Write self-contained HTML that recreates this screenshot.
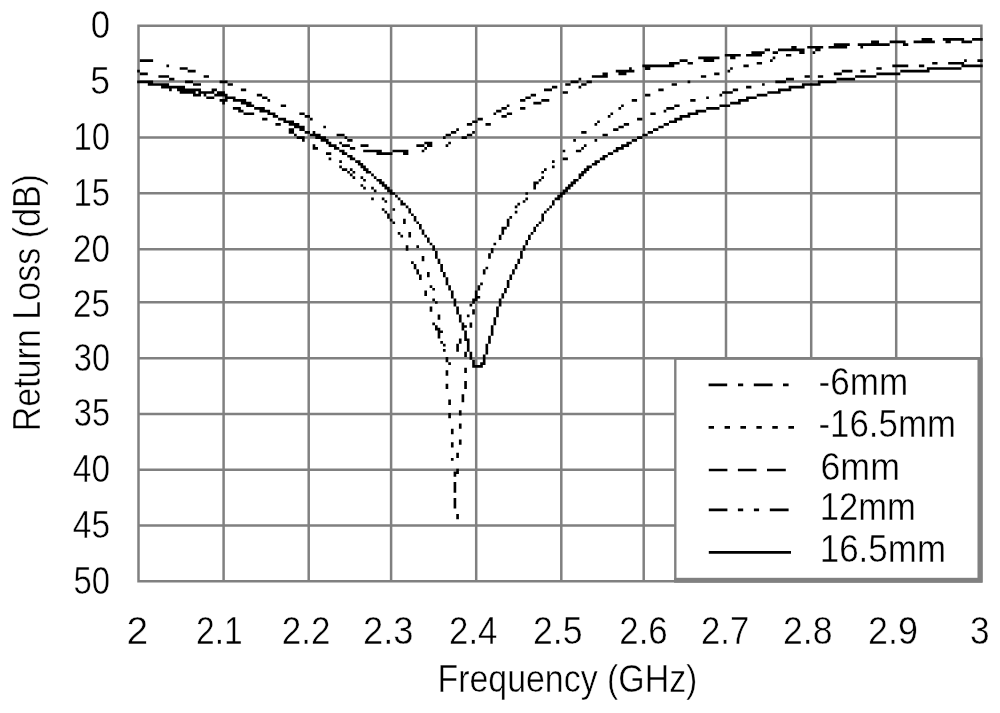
<!DOCTYPE html>
<html><head><meta charset="utf-8"><title>Return Loss</title>
<style>html,body{margin:0;padding:0;background:#fff}svg{display:block}</style></head>
<body>
<svg width="1000" height="713" viewBox="0 0 1000 713">
<rect width="1000" height="713" fill="#fff"/>
<path d="M138.5 24.55V582.55M223.6 24.55V582.55M308.7 24.55V582.55M391.1 24.55V582.55M476.2 24.55V582.55M561.3 24.55V582.55M643.7 24.55V582.55M726.0 24.55V582.55M811.2 24.55V582.55M896.2 24.55V582.55M981.4 24.55V582.55M137.25 25.8H982.65M137.25 81.5H982.65M137.25 137.4H982.65M137.25 193.2H982.65M137.25 249.2H982.65M137.25 302.3H982.65M137.25 358.2H982.65M137.25 413.9H982.65M137.25 469.8H982.65M137.25 525.6H982.65M137.25 581.3H982.65" stroke="#808080" stroke-width="2.5" fill="none"/>
<path d="M387.12 216.12h2.66v2.659h-2.66zM413.71 216.12h2.66v2.659h-2.66zM509.43 216.12h2.66v2.659h-2.66zM541.34 216.12h2.66v2.659h-2.66zM262.14 117.74h5.32v2.659h-5.32zM278.10 117.74h7.98v2.659h-7.98zM310.01 117.74h2.66v2.659h-2.66zM477.52 117.74h5.32v2.659h-5.32zM637.06 117.74h5.32v2.659h-5.32zM674.29 117.74h7.98v2.659h-7.98zM424.34 293.23h2.66v2.659h-2.66zM450.93 293.23h2.66v2.659h-2.66zM474.86 293.23h2.66v2.659h-2.66zM501.45 293.23h2.66v2.659h-2.66zM328.62 157.62h2.66v2.659h-2.66zM349.89 157.62h5.32v2.659h-5.32zM562.61 157.62h5.32v2.659h-5.32zM599.84 157.62h5.32v2.659h-5.32zM243.53 112.42h10.64v2.659h-10.64zM267.46 112.42h7.98v2.659h-7.98zM299.37 112.42h5.32v2.659h-5.32zM493.48 112.42h2.66v2.659h-2.66zM506.77 112.42h5.32v2.659h-5.32zM610.47 112.42h2.66v2.659h-2.66zM650.36 112.42h5.32v2.659h-5.32zM687.58 112.42h10.64v2.659h-10.64zM347.23 170.92h2.66v2.659h-2.66zM352.55 170.92h2.66v2.659h-2.66zM365.84 170.92h5.32v2.659h-5.32zM541.34 170.92h2.66v2.659h-2.66zM581.22 170.92h5.32v2.659h-5.32zM302.03 139.01h2.66v2.659h-2.66zM320.64 139.01h7.98v2.659h-7.98zM347.23 139.01h5.32v2.659h-5.32zM573.25 139.01h2.66v2.659h-2.66zM594.52 139.01h2.66v2.659h-2.66zM631.74 139.01h5.32v2.659h-5.32zM179.71 67.21h7.98v2.659h-7.98zM629.09 67.21h2.66v2.659h-2.66zM645.04 67.21h5.32v2.659h-5.32zM730.13 67.21h2.66v2.659h-2.66zM876.37 67.21h5.32v2.659h-5.32zM926.89 67.21h34.57v2.659h-34.57zM432.32 322.48h2.66v2.659h-2.66zM461.57 322.48h2.66v2.659h-2.66zM469.55 322.48h2.66v2.659h-2.66zM493.48 322.48h2.66v2.659h-2.66zM416.37 271.96h2.66v2.659h-2.66zM427.00 271.96h2.66v2.659h-2.66zM442.96 271.96h2.66v2.659h-2.66zM482.84 271.96h2.66v2.659h-2.66zM512.09 271.96h2.66v2.659h-2.66zM445.61 357.05h2.66v2.659h-2.66zM469.55 357.05h2.66v2.659h-2.66zM482.84 357.05h2.66v2.659h-2.66zM413.71 263.98h2.66v2.659h-2.66zM440.30 263.98h2.66v2.659h-2.66zM514.75 263.98h2.66v2.659h-2.66zM325.96 152.30h5.32v2.659h-5.32zM341.91 152.30h5.32v2.659h-5.32zM376.48 152.30h15.95v2.659h-15.95zM403.07 152.30h5.32v2.659h-5.32zM607.81 152.30h5.32v2.659h-5.32zM137.17 80.51h15.95v2.659h-15.95zM185.03 80.51h7.98v2.659h-7.98zM219.60 80.51h7.98v2.659h-7.98zM570.59 80.51h7.98v2.659h-7.98zM586.54 80.51h5.32v2.659h-5.32zM687.58 80.51h2.66v2.659h-2.66zM775.33 80.51h10.64v2.659h-10.64zM817.87 80.51h18.61v2.659h-18.61zM158.44 75.19h10.64v2.659h-10.64zM203.65 75.19h5.32v2.659h-5.32zM591.86 75.19h15.95v2.659h-15.95zM700.88 75.19h5.32v2.659h-5.32zM804.58 75.19h5.32v2.659h-5.32zM817.87 75.19h5.32v2.659h-5.32zM855.10 75.19h21.27v2.659h-21.27zM724.81 53.92h15.95v2.659h-15.95zM746.08 53.92h15.95v2.659h-15.95zM785.97 53.92h5.32v2.659h-5.32zM275.44 123.05h5.32v2.659h-5.32zM288.73 123.05h10.64v2.659h-10.64zM466.89 123.05h5.32v2.659h-5.32zM485.50 123.05h5.32v2.659h-5.32zM594.52 123.05h2.66v2.659h-2.66zM623.77 123.05h5.32v2.659h-5.32zM663.65 123.05h5.32v2.659h-5.32zM246.19 104.44h7.98v2.659h-7.98zM280.76 104.44h5.32v2.659h-5.32zM506.77 104.44h2.66v2.659h-2.66zM621.11 104.44h2.66v2.659h-2.66zM674.29 104.44h5.32v2.659h-5.32zM719.49 104.44h10.64v2.659h-10.64zM193.01 93.80h7.98v2.659h-7.98zM203.65 93.80h2.66v2.659h-2.66zM214.28 93.80h13.29v2.659h-13.29zM256.83 93.80h5.32v2.659h-5.32zM530.70 93.80h5.32v2.659h-5.32zM645.04 93.80h5.32v2.659h-5.32zM719.49 93.80h2.66v2.659h-2.66zM756.72 93.80h10.64v2.659h-10.64zM339.25 149.64h5.32v2.659h-5.32zM363.19 149.64h18.61v2.659h-18.61zM392.43 149.64h15.95v2.659h-15.95zM421.68 149.64h2.66v2.659h-2.66zM562.61 149.64h2.66v2.659h-2.66zM575.91 149.64h5.32v2.659h-5.32zM613.13 149.64h5.32v2.659h-5.32zM668.97 61.90h10.64v2.659h-10.64zM687.58 61.90h5.32v2.659h-5.32zM756.72 61.90h5.32v2.659h-5.32zM932.21 61.90h5.32v2.659h-5.32zM948.17 61.90h15.95v2.659h-15.95zM434.98 325.14h2.66v2.659h-2.66zM461.57 325.14h5.32v2.659h-5.32zM469.55 325.14h2.66v2.659h-2.66zM490.82 325.14h2.66v2.659h-2.66zM349.89 173.57h2.66v2.659h-2.66zM371.16 173.57h2.66v2.659h-2.66zM578.56 173.57h5.32v2.659h-5.32zM833.83 43.28h15.95v2.659h-15.95zM857.76 43.28h31.91v2.659h-31.91zM902.96 43.28h5.32v2.659h-5.32zM434.98 250.69h2.66v2.659h-2.66zM490.82 250.69h2.66v2.659h-2.66zM520.07 250.69h2.66v2.659h-2.66zM294.05 133.69h2.66v2.659h-2.66zM310.01 133.69h10.64v2.659h-10.64zM336.60 133.69h7.98v2.659h-7.98zM445.61 133.69h5.32v2.659h-5.32zM466.89 133.69h5.32v2.659h-5.32zM602.50 133.69h5.32v2.659h-5.32zM642.38 133.69h5.32v2.659h-5.32zM312.66 146.98h5.32v2.659h-5.32zM333.94 146.98h5.32v2.659h-5.32zM349.89 146.98h5.32v2.659h-5.32zM424.34 146.98h2.66v2.659h-2.66zM581.22 146.98h2.66v2.659h-2.66zM615.79 146.98h7.98v2.659h-7.98zM400.41 234.73h2.66v2.659h-2.66zM408.39 234.73h2.66v2.659h-2.66zM424.34 234.73h2.66v2.659h-2.66zM498.79 234.73h2.66v2.659h-2.66zM528.04 234.73h2.66v2.659h-2.66zM147.81 83.17h21.27v2.659h-21.27zM193.01 83.17h7.98v2.659h-7.98zM227.58 83.17h5.32v2.659h-5.32zM565.27 83.17h5.32v2.659h-5.32zM581.22 83.17h5.32v2.659h-5.32zM671.63 83.17h5.32v2.659h-5.32zM762.04 83.17h2.66v2.659h-2.66zM801.92 83.17h18.61v2.659h-18.61zM419.02 224.10h2.66v2.659h-2.66zM506.77 224.10h2.66v2.659h-2.66zM536.02 224.10h2.66v2.659h-2.66zM232.89 107.10h7.98v2.659h-7.98zM254.17 107.10h10.64v2.659h-10.64zM501.45 107.10h5.32v2.659h-5.32zM520.07 107.10h5.32v2.659h-5.32zM618.45 107.10h2.66v2.659h-2.66zM666.31 107.10h7.98v2.659h-7.98zM706.20 107.10h13.29v2.659h-13.29zM339.25 165.60h2.66v2.659h-2.66zM360.53 165.60h5.32v2.659h-5.32zM551.97 165.60h2.66v2.659h-2.66zM586.54 165.60h5.32v2.659h-5.32zM921.58 37.97h10.64v2.659h-10.64zM942.85 37.97h21.27v2.659h-21.27zM972.10 37.97h10.64v2.659h-10.64zM206.30 96.46h7.98v2.659h-7.98zM224.92 96.46h10.64v2.659h-10.64zM262.14 96.46h5.32v2.659h-5.32zM525.38 96.46h5.32v2.659h-5.32zM706.20 96.46h2.66v2.659h-2.66zM746.08 96.46h10.64v2.659h-10.64zM296.71 136.35h7.98v2.659h-7.98zM315.32 136.35h10.64v2.659h-10.64zM344.57 136.35h2.66v2.659h-2.66zM442.96 136.35h2.66v2.659h-2.66zM461.57 136.35h5.32v2.659h-5.32zM637.06 136.35h5.32v2.659h-5.32zM363.19 178.89h2.66v2.659h-2.66zM376.48 178.89h5.32v2.659h-5.32zM538.68 178.89h2.66v2.659h-2.66zM573.25 178.89h5.32v2.659h-5.32zM698.22 56.58h21.27v2.659h-21.27zM730.13 56.58h5.32v2.659h-5.32zM772.67 56.58h2.66v2.659h-2.66zM219.60 99.12h7.98v2.659h-7.98zM232.89 99.12h13.29v2.659h-13.29zM267.46 99.12h2.66v2.659h-2.66zM520.07 99.12h5.32v2.659h-5.32zM541.34 99.12h7.98v2.659h-7.98zM631.74 99.12h5.32v2.659h-5.32zM690.24 99.12h5.32v2.659h-5.32zM738.10 99.12h10.64v2.659h-10.64zM238.21 109.76h5.32v2.659h-5.32zM259.48 109.76h10.64v2.659h-10.64zM496.14 109.76h5.32v2.659h-5.32zM663.65 109.76h2.66v2.659h-2.66zM695.56 109.76h10.64v2.659h-10.64zM169.08 88.49h2.66v2.659h-2.66zM177.06 88.49h23.93v2.659h-23.93zM211.62 88.49h5.32v2.659h-5.32zM240.87 88.49h5.32v2.659h-5.32zM544.00 88.49h7.98v2.659h-7.98zM658.33 88.49h5.32v2.659h-5.32zM732.79 88.49h5.32v2.659h-5.32zM777.99 88.49h13.29v2.659h-13.29zM325.96 141.67h5.32v2.659h-5.32zM339.25 141.67h2.66v2.659h-2.66zM424.34 141.67h7.98v2.659h-7.98zM448.27 141.67h2.66v2.659h-2.66zM626.43 141.67h5.32v2.659h-5.32zM445.61 383.64h2.66v2.659h-2.66zM464.23 383.64h2.66v2.659h-2.66zM405.73 248.03h2.66v2.659h-2.66zM432.32 248.03h2.66v2.659h-2.66zM490.82 248.03h2.66v2.659h-2.66zM522.73 248.03h2.66v2.659h-2.66zM272.78 115.08h5.32v2.659h-5.32zM304.69 115.08h5.32v2.659h-5.32zM501.45 115.08h5.32v2.659h-5.32zM607.81 115.08h2.66v2.659h-2.66zM679.61 115.08h10.64v2.659h-10.64zM751.40 51.26h13.29v2.659h-13.29zM772.67 51.26h5.32v2.659h-5.32zM799.26 51.26h5.32v2.659h-5.32zM812.56 51.26h2.66v2.659h-2.66zM222.26 101.78h2.66v2.659h-2.66zM240.87 101.78h10.64v2.659h-10.64zM533.36 101.78h7.98v2.659h-7.98zM730.13 101.78h10.64v2.659h-10.64zM437.64 335.77h2.66v2.659h-2.66zM464.23 335.77h2.66v2.659h-2.66zM488.16 335.77h2.66v2.659h-2.66zM429.66 242.71h2.66v2.659h-2.66zM493.48 242.71h2.66v2.659h-2.66zM525.38 242.71h2.66v2.659h-2.66zM288.73 131.03h5.32v2.659h-5.32zM304.69 131.03h5.32v2.659h-5.32zM312.66 131.03h2.66v2.659h-2.66zM450.93 131.03h5.32v2.659h-5.32zM472.20 131.03h2.66v2.659h-2.66zM581.22 131.03h5.32v2.659h-5.32zM647.70 131.03h5.32v2.659h-5.32zM283.42 120.39h10.64v2.659h-10.64zM472.20 120.39h5.32v2.659h-5.32zM597.18 120.39h2.66v2.659h-2.66zM668.97 120.39h7.98v2.659h-7.98zM458.91 439.47h2.66v2.659h-2.66zM371.16 197.51h2.66v2.659h-2.66zM381.80 197.51h2.66v2.659h-2.66zM397.75 197.51h2.66v2.659h-2.66zM525.38 197.51h2.66v2.659h-2.66zM554.63 197.51h5.32v2.659h-5.32zM137.17 69.87h2.66v2.659h-2.66zM187.69 69.87h7.98v2.659h-7.98zM615.79 69.87h18.61v2.659h-18.61zM727.47 69.87h2.66v2.659h-2.66zM841.81 69.87h10.64v2.659h-10.64zM860.42 69.87h5.32v2.659h-5.32zM900.30 69.87h29.25v2.659h-29.25zM461.57 394.27h2.66v2.659h-2.66zM395.09 194.85h2.66v2.659h-2.66zM557.29 194.85h5.32v2.659h-5.32zM166.42 64.56h2.66v2.659h-2.66zM642.38 64.56h31.91v2.659h-31.91zM743.42 64.56h5.32v2.659h-5.32zM892.33 64.56h15.95v2.659h-15.95zM918.92 64.56h5.32v2.659h-5.32zM961.46 64.56h21.27v2.659h-21.27zM448.27 362.36h2.66v2.659h-2.66zM472.20 362.36h2.66v2.659h-2.66zM480.18 362.36h5.32v2.659h-5.32zM791.28 45.94h5.32v2.659h-5.32zM807.24 45.94h15.95v2.659h-15.95zM828.51 45.94h18.61v2.659h-18.61zM860.42 45.94h2.66v2.659h-2.66zM871.05 40.62h7.98v2.659h-7.98zM889.67 40.62h15.95v2.659h-15.95zM913.60 40.62h21.27v2.659h-21.27zM945.51 40.62h5.32v2.659h-5.32zM961.46 40.62h10.64v2.659h-10.64zM294.05 125.71h10.64v2.659h-10.64zM323.30 125.71h2.66v2.659h-2.66zM618.45 125.71h5.32v2.659h-5.32zM658.33 125.71h5.32v2.659h-5.32zM464.23 354.39h2.66v2.659h-2.66zM469.55 354.39h2.66v2.659h-2.66zM482.84 354.39h2.66v2.659h-2.66zM453.59 471.38h5.32v2.659h-5.32zM139.83 72.53h7.98v2.659h-7.98zM602.50 72.53h5.32v2.659h-5.32zM618.45 72.53h7.98v2.659h-7.98zM714.17 72.53h5.32v2.659h-5.32zM833.83 72.53h7.98v2.659h-7.98zM876.37 72.53h23.93v2.659h-23.93zM437.64 333.11h2.66v2.659h-2.66zM464.23 333.11h2.66v2.659h-2.66zM490.82 333.11h2.66v2.659h-2.66zM312.66 144.33h2.66v2.659h-2.66zM328.62 144.33h7.98v2.659h-7.98zM341.91 144.33h7.98v2.659h-7.98zM360.53 144.33h7.98v2.659h-7.98zM416.37 144.33h7.98v2.659h-7.98zM427.00 144.33h5.32v2.659h-5.32zM445.61 144.33h2.66v2.659h-2.66zM583.88 144.33h2.66v2.659h-2.66zM621.11 144.33h7.98v2.659h-7.98zM458.91 426.18h2.66v2.659h-2.66zM434.98 301.21h2.66v2.659h-2.66zM453.59 301.21h2.66v2.659h-2.66zM472.20 301.21h2.66v2.659h-2.66zM498.79 301.21h2.66v2.659h-2.66zM169.08 77.85h5.32v2.659h-5.32zM578.56 77.85h2.66v2.659h-2.66zM785.97 77.85h7.98v2.659h-7.98zM836.49 77.85h18.61v2.659h-18.61zM424.34 290.57h2.66v2.659h-2.66zM450.93 290.57h2.66v2.659h-2.66zM474.86 290.57h2.66v2.659h-2.66zM504.11 290.57h2.66v2.659h-2.66zM442.96 349.07h2.66v2.659h-2.66zM456.25 349.07h2.66v2.659h-2.66zM466.89 349.07h2.66v2.659h-2.66zM485.50 349.07h2.66v2.659h-2.66zM416.37 269.30h2.66v2.659h-2.66zM440.30 269.30h2.66v2.659h-2.66zM482.84 269.30h2.66v2.659h-2.66zM512.09 269.30h2.66v2.659h-2.66zM161.10 85.83h23.93v2.659h-23.93zM551.97 85.83h5.32v2.659h-5.32zM578.56 85.83h2.66v2.659h-2.66zM746.08 85.83h5.32v2.659h-5.32zM788.63 85.83h15.95v2.659h-15.95zM400.41 202.82h5.32v2.659h-5.32zM517.41 202.82h2.66v2.659h-2.66zM551.97 202.82h2.66v2.659h-2.66zM389.78 192.19h5.32v2.659h-5.32zM525.38 192.19h2.66v2.659h-2.66zM559.95 192.19h5.32v2.659h-5.32zM384.46 200.16h2.66v2.659h-2.66zM400.41 200.16h2.66v2.659h-2.66zM522.73 200.16h2.66v2.659h-2.66zM551.97 200.16h2.66v2.659h-2.66zM427.00 240.05h2.66v2.659h-2.66zM525.38 240.05h2.66v2.659h-2.66zM448.27 412.88h2.66v2.659h-2.66zM458.91 412.88h2.66v2.659h-2.66zM341.91 168.26h5.32v2.659h-5.32zM349.89 168.26h2.66v2.659h-2.66zM363.19 168.26h5.32v2.659h-5.32zM544.00 168.26h2.66v2.659h-2.66zM583.88 168.26h5.32v2.659h-5.32zM456.25 311.84h2.66v2.659h-2.66zM472.20 311.84h2.66v2.659h-2.66zM496.14 311.84h2.66v2.659h-2.66zM445.61 359.70h2.66v2.659h-2.66zM472.20 359.70h2.66v2.659h-2.66zM482.84 359.70h2.66v2.659h-2.66zM405.73 245.37h2.66v2.659h-2.66zM416.37 245.37h2.66v2.659h-2.66zM432.32 245.37h2.66v2.659h-2.66zM522.73 245.37h2.66v2.659h-2.66zM453.59 303.87h2.66v2.659h-2.66zM469.55 303.87h2.66v2.659h-2.66zM498.79 303.87h2.66v2.659h-2.66zM384.46 210.80h2.66v2.659h-2.66zM408.39 210.80h2.66v2.659h-2.66zM514.75 210.80h2.66v2.659h-2.66zM544.00 210.80h2.66v2.659h-2.66zM389.78 218.78h2.66v2.659h-2.66zM403.07 218.78h2.66v2.659h-2.66zM413.71 218.78h2.66v2.659h-2.66zM506.77 218.78h2.66v2.659h-2.66zM541.34 218.78h2.66v2.659h-2.66zM179.71 91.15h15.95v2.659h-15.95zM198.33 91.15h15.95v2.659h-15.95zM216.94 91.15h7.98v2.659h-7.98zM562.61 91.15h5.32v2.659h-5.32zM722.15 91.15h10.64v2.659h-10.64zM767.35 91.15h13.29v2.659h-13.29zM381.80 208.14h2.66v2.659h-2.66zM392.43 208.14h2.66v2.659h-2.66zM408.39 208.14h2.66v2.659h-2.66zM546.66 208.14h2.66v2.659h-2.66zM363.19 186.87h2.66v2.659h-2.66zM371.16 186.87h2.66v2.659h-2.66zM384.46 186.87h5.32v2.659h-5.32zM533.36 186.87h2.66v2.659h-2.66zM565.27 186.87h5.32v2.659h-5.32zM456.25 468.72h2.66v2.659h-2.66zM437.64 330.46h5.32v2.659h-5.32zM464.23 330.46h2.66v2.659h-2.66zM490.82 330.46h2.66v2.659h-2.66zM458.91 423.52h2.66v2.659h-2.66zM419.02 226.75h2.66v2.659h-2.66zM501.45 226.75h5.32v2.659h-5.32zM533.36 226.75h2.66v2.659h-2.66zM357.87 162.94h5.32v2.659h-5.32zM591.86 162.94h5.32v2.659h-5.32zM419.02 274.62h2.66v2.659h-2.66zM427.00 274.62h2.66v2.659h-2.66zM442.96 274.62h2.66v2.659h-2.66zM509.43 274.62h2.66v2.659h-2.66zM432.32 298.55h2.66v2.659h-2.66zM453.59 298.55h2.66v2.659h-2.66zM472.20 298.55h5.32v2.659h-5.32zM498.79 298.55h2.66v2.659h-2.66zM139.83 59.24h13.29v2.659h-13.29zM679.61 59.24h7.98v2.659h-7.98zM703.54 59.24h10.64v2.659h-10.64zM770.01 59.24h2.66v2.659h-2.66zM964.12 59.24h2.66v2.659h-2.66zM977.41 59.24h5.32v2.659h-5.32zM440.30 341.09h2.66v2.659h-2.66zM458.91 341.09h2.66v2.659h-2.66zM466.89 341.09h2.66v2.659h-2.66zM488.16 341.09h2.66v2.659h-2.66zM437.64 314.50h2.66v2.659h-2.66zM458.91 314.50h2.66v2.659h-2.66zM466.89 314.50h2.66v2.659h-2.66zM496.14 314.50h2.66v2.659h-2.66zM458.91 338.43h2.66v2.659h-2.66zM464.23 338.43h5.32v2.659h-5.32zM488.16 338.43h2.66v2.659h-2.66zM434.98 327.80h5.32v2.659h-5.32zM461.57 327.80h2.66v2.659h-2.66zM490.82 327.80h2.66v2.659h-2.66zM456.25 455.43h2.66v2.659h-2.66zM458.91 410.23h2.66v2.659h-2.66zM429.66 309.18h2.66v2.659h-2.66zM456.25 309.18h2.66v2.659h-2.66zM472.20 309.18h2.66v2.659h-2.66zM496.14 309.18h2.66v2.659h-2.66zM456.25 346.41h2.66v2.659h-2.66zM466.89 346.41h2.66v2.659h-2.66zM485.50 346.41h2.66v2.659h-2.66zM379.14 181.55h5.32v2.659h-5.32zM533.36 181.55h5.32v2.659h-5.32zM570.59 181.55h5.32v2.659h-5.32zM347.23 154.96h5.32v2.659h-5.32zM602.50 154.96h5.32v2.659h-5.32zM453.59 503.29h2.66v2.659h-2.66zM360.53 184.21h2.66v2.659h-2.66zM381.80 184.21h5.32v2.659h-5.32zM533.36 184.21h2.66v2.659h-2.66zM567.93 184.21h5.32v2.659h-5.32zM421.68 229.41h2.66v2.659h-2.66zM501.45 229.41h2.66v2.659h-2.66zM533.36 229.41h2.66v2.659h-2.66zM339.25 160.28h2.66v2.659h-2.66zM355.21 160.28h5.32v2.659h-5.32zM551.97 160.28h2.66v2.659h-2.66zM594.52 160.28h5.32v2.659h-5.32zM764.69 48.60h5.32v2.659h-5.32zM777.99 48.60h26.59v2.659h-26.59zM815.22 48.60h5.32v2.659h-5.32zM419.02 277.28h2.66v2.659h-2.66zM445.61 277.28h2.66v2.659h-2.66zM509.43 277.28h2.66v2.659h-2.66zM453.59 490.00h2.66v2.659h-2.66zM434.98 253.34h2.66v2.659h-2.66zM488.16 253.34h2.66v2.659h-2.66zM520.07 253.34h2.66v2.659h-2.66zM392.43 221.44h2.66v2.659h-2.66zM403.07 221.44h2.66v2.659h-2.66zM416.37 221.44h2.66v2.659h-2.66zM506.77 221.44h2.66v2.659h-2.66zM538.68 221.44h2.66v2.659h-2.66zM421.68 256.00h2.66v2.659h-2.66zM434.98 256.00h2.66v2.659h-2.66zM488.16 256.00h2.66v2.659h-2.66zM520.07 256.00h2.66v2.659h-2.66zM442.96 343.75h2.66v2.659h-2.66zM456.25 343.75h2.66v2.659h-2.66zM466.89 343.75h2.66v2.659h-2.66zM485.50 343.75h2.66v2.659h-2.66zM453.59 500.63h2.66v2.659h-2.66zM413.71 266.64h2.66v2.659h-2.66zM440.30 266.64h2.66v2.659h-2.66zM485.50 266.64h2.66v2.659h-2.66zM514.75 266.64h2.66v2.659h-2.66zM472.20 365.02h10.64v2.659h-10.64zM450.93 295.89h2.66v2.659h-2.66zM474.86 295.89h5.32v2.659h-5.32zM501.45 295.89h2.66v2.659h-2.66zM288.73 128.37h5.32v2.659h-5.32zM299.37 128.37h5.32v2.659h-5.32zM456.25 128.37h2.66v2.659h-2.66zM613.13 128.37h5.32v2.659h-5.32zM653.02 128.37h5.32v2.659h-5.32zM445.61 386.29h2.66v2.659h-2.66zM464.23 386.29h2.66v2.659h-2.66zM429.66 306.52h2.66v2.659h-2.66zM456.25 306.52h2.66v2.659h-2.66zM496.14 306.52h2.66v2.659h-2.66zM429.66 285.25h2.66v2.659h-2.66zM448.27 285.25h2.66v2.659h-2.66zM477.52 285.25h2.66v2.659h-2.66zM506.77 285.25h2.66v2.659h-2.66zM453.59 487.34h2.66v2.659h-2.66zM445.61 282.59h2.66v2.659h-2.66zM480.18 282.59h2.66v2.659h-2.66zM506.77 282.59h2.66v2.659h-2.66zM445.61 373.00h2.66v2.659h-2.66zM411.05 261.32h2.66v2.659h-2.66zM437.64 261.32h2.66v2.659h-2.66zM517.41 261.32h2.66v2.659h-2.66zM453.59 474.04h2.66v2.659h-2.66zM445.61 370.34h2.66v2.659h-2.66zM464.23 370.34h2.66v2.659h-2.66zM373.82 189.53h2.66v2.659h-2.66zM387.12 189.53h5.32v2.659h-5.32zM562.61 189.53h5.32v2.659h-5.32zM397.75 232.07h2.66v2.659h-2.66zM408.39 232.07h2.66v2.659h-2.66zM421.68 232.07h2.66v2.659h-2.66zM501.45 232.07h2.66v2.659h-2.66zM530.70 232.07h2.66v2.659h-2.66zM450.93 458.09h2.66v2.659h-2.66zM387.12 213.46h2.66v2.659h-2.66zM411.05 213.46h2.66v2.659h-2.66zM541.34 213.46h2.66v2.659h-2.66zM405.73 205.48h2.66v2.659h-2.66zM514.75 205.48h2.66v2.659h-2.66zM549.32 205.48h2.66v2.659h-2.66zM464.23 380.98h2.66v2.659h-2.66zM445.61 279.93h2.66v2.659h-2.66zM506.77 279.93h2.66v2.659h-2.66zM450.93 444.79h2.66v2.659h-2.66zM456.25 516.59h2.66v2.659h-2.66zM464.23 367.68h2.66v2.659h-2.66zM450.93 431.50h2.66v2.659h-2.66zM458.91 319.82h2.66v2.659h-2.66zM493.48 319.82h2.66v2.659h-2.66zM432.32 287.91h2.66v2.659h-2.66zM448.27 287.91h2.66v2.659h-2.66zM477.52 287.91h2.66v2.659h-2.66zM504.11 287.91h2.66v2.659h-2.66zM450.93 442.13h2.66v2.659h-2.66zM458.91 442.13h2.66v2.659h-2.66zM421.68 258.66h2.66v2.659h-2.66zM437.64 258.66h2.66v2.659h-2.66zM517.41 258.66h2.66v2.659h-2.66zM456.25 513.93h2.66v2.659h-2.66zM448.27 399.59h2.66v2.659h-2.66zM461.57 399.59h2.66v2.659h-2.66zM448.27 415.54h2.66v2.659h-2.66zM456.25 452.77h2.66v2.659h-2.66zM352.55 176.23h2.66v2.659h-2.66zM360.53 176.23h2.66v2.659h-2.66zM373.82 176.23h2.66v2.659h-2.66zM541.34 176.23h2.66v2.659h-2.66zM578.56 176.23h2.66v2.659h-2.66zM464.23 351.73h2.66v2.659h-2.66zM469.55 351.73h2.66v2.659h-2.66zM485.50 351.73h2.66v2.659h-2.66zM437.64 317.16h2.66v2.659h-2.66zM458.91 317.16h2.66v2.659h-2.66zM493.48 317.16h2.66v2.659h-2.66zM448.27 402.25h2.66v2.659h-2.66zM461.57 396.93h2.66v2.659h-2.66zM453.59 497.97h2.66v2.659h-2.66zM453.59 484.68h2.66v2.659h-2.66zM453.59 482.02h2.66v2.659h-2.66zM453.59 505.95h2.66v2.659h-2.66zM450.93 428.84h2.66v2.659h-2.66zM427.00 237.39h2.66v2.659h-2.66zM498.79 237.39h2.66v2.659h-2.66zM528.04 237.39h2.66v2.659h-2.66zM509.43 274.62h2.659v5.32h-2.659zM480.18 362.36h2.659v5.32h-2.659zM424.34 290.57h2.659v5.32h-2.659zM562.61 189.53h2.659v5.32h-2.659zM267.46 109.76h2.659v5.32h-2.659zM541.34 213.46h2.659v7.98h-2.659zM432.32 245.37h2.659v5.32h-2.659zM427.00 141.67h2.659v5.32h-2.659zM427.00 237.39h2.659v5.32h-2.659zM427.00 271.96h2.659v5.32h-2.659zM482.84 269.30h2.659v5.32h-2.659zM482.84 354.39h2.659v10.64h-2.659zM514.75 263.98h2.659v5.32h-2.659zM325.96 139.01h2.659v5.32h-2.659zM219.60 91.15h2.659v5.32h-2.659zM754.06 51.26h2.659v5.32h-2.659zM469.55 322.48h2.659v5.32h-2.659zM469.55 351.73h2.659v7.98h-2.659zM248.85 101.78h2.659v5.32h-2.659zM198.33 88.49h2.659v7.98h-2.659zM578.56 173.57h2.659v5.32h-2.659zM671.63 61.90h2.659v5.32h-2.659zM464.23 330.46h2.659v10.64h-2.659zM464.23 351.73h2.659v5.32h-2.659zM464.23 367.68h2.659v5.32h-2.659zM464.23 380.98h2.659v7.98h-2.659zM836.49 43.28h2.659v5.32h-2.659zM434.98 250.69h2.659v7.98h-2.659zM434.98 325.14h2.659v5.32h-2.659zM413.71 216.12h2.659v5.32h-2.659zM413.71 263.98h2.659v5.32h-2.659zM474.86 290.57h2.659v10.64h-2.659zM147.81 80.51h2.659v5.32h-2.659zM621.11 69.87h2.659v5.32h-2.659zM621.11 144.33h2.659v5.32h-2.659zM528.04 234.73h2.659v5.32h-2.659zM498.79 234.73h2.659v5.32h-2.659zM498.79 298.55h2.659v7.98h-2.659zM506.77 218.78h2.659v7.98h-2.659zM506.77 279.93h2.659v7.98h-2.659zM926.89 37.97h2.659v5.32h-2.659zM926.89 67.21h2.659v5.32h-2.659zM317.98 133.69h2.659v5.32h-2.659zM756.72 51.26h2.659v5.32h-2.659zM376.48 149.64h2.659v5.32h-2.659zM405.73 149.64h2.659v5.32h-2.659zM405.73 245.37h2.659v5.32h-2.659zM520.07 250.69h2.659v7.98h-2.659zM259.48 107.10h2.659v5.32h-2.659zM238.21 107.10h2.659v5.32h-2.659zM187.69 88.49h2.659v5.32h-2.659zM429.66 141.67h2.659v5.32h-2.659zM429.66 306.52h2.659v5.32h-2.659zM379.14 149.64h2.659v5.32h-2.659zM379.14 178.89h2.659v5.32h-2.659zM246.19 101.78h2.659v5.32h-2.659zM328.62 141.67h2.659v5.32h-2.659zM525.38 240.05h2.659v5.32h-2.659zM458.91 314.50h2.659v7.98h-2.659zM458.91 338.43h2.659v5.32h-2.659zM458.91 410.23h2.659v5.32h-2.659zM458.91 423.52h2.659v5.32h-2.659zM458.91 439.47h2.659v5.32h-2.659zM557.29 194.85h2.659v5.32h-2.659zM924.23 37.97h2.659v5.32h-2.659zM365.84 168.26h2.659v5.32h-2.659zM461.57 322.48h2.659v7.98h-2.659zM461.57 394.27h2.659v7.98h-2.659zM703.54 56.58h2.659v5.32h-2.659zM288.73 120.39h2.659v5.32h-2.659zM288.73 128.37h2.659v5.32h-2.659zM472.20 298.55h2.659v5.32h-2.659zM472.20 309.18h2.659v5.32h-2.659zM472.20 359.70h2.659v7.98h-2.659zM793.94 45.94h2.659v5.32h-2.659zM166.42 83.17h2.659v5.32h-2.659zM602.50 72.53h2.659v5.32h-2.659zM602.50 154.96h2.659v5.32h-2.659zM296.71 123.05h2.659v5.32h-2.659zM456.25 306.52h2.659v7.98h-2.659zM456.25 343.75h2.659v7.98h-2.659zM456.25 452.77h2.659v5.32h-2.659zM456.25 468.72h2.659v5.32h-2.659zM456.25 513.93h2.659v5.32h-2.659zM490.82 248.03h2.659v5.32h-2.659zM490.82 325.14h2.659v10.64h-2.659zM445.61 277.28h2.659v7.98h-2.659zM445.61 357.05h2.659v5.32h-2.659zM445.61 370.34h2.659v5.32h-2.659zM445.61 383.64h2.659v5.32h-2.659zM945.51 37.97h2.659v5.32h-2.659zM416.37 269.30h2.659v5.32h-2.659zM844.46 43.28h2.659v5.32h-2.659zM674.29 117.74h2.659v5.32h-2.659zM902.96 40.62h2.659v5.32h-2.659zM732.79 53.92h2.659v5.32h-2.659zM647.70 64.56h2.659v5.32h-2.659zM791.28 45.94h2.659v5.32h-2.659zM450.93 290.57h2.659v7.98h-2.659zM450.93 428.84h2.659v5.32h-2.659zM450.93 442.13h2.659v5.32h-2.659zM626.43 141.67h2.659v5.32h-2.659zM442.96 271.96h2.659v5.32h-2.659zM294.05 123.05h2.659v5.32h-2.659zM384.46 184.21h2.659v5.32h-2.659zM517.41 258.66h2.659v5.32h-2.659zM363.19 165.60h2.659v5.32h-2.659zM801.92 48.60h2.659v5.32h-2.659zM801.92 83.17h2.659v5.32h-2.659zM841.81 43.28h2.659v5.32h-2.659zM751.40 51.26h2.659v5.32h-2.659zM493.48 317.16h2.659v7.98h-2.659zM448.27 285.25h2.659v5.32h-2.659zM448.27 399.59h2.659v5.32h-2.659zM448.27 412.88h2.659v5.32h-2.659zM504.11 287.91h2.659v5.32h-2.659zM453.59 298.55h2.659v7.98h-2.659zM453.59 471.38h2.659v5.32h-2.659zM453.59 482.02h2.659v10.64h-2.659zM453.59 497.97h2.659v10.64h-2.659zM403.07 149.64h2.659v5.32h-2.659zM403.07 218.78h2.659v5.32h-2.659zM381.80 181.55h2.659v5.32h-2.659zM512.09 269.30h2.659v5.32h-2.659zM224.92 93.80h2.659v7.98h-2.659zM615.79 146.98h2.659v5.32h-2.659zM501.45 226.75h2.659v7.98h-2.659zM501.45 293.23h2.659v5.32h-2.659zM594.52 160.28h2.659v5.32h-2.659zM873.71 40.62h2.659v5.32h-2.659zM565.27 186.87h2.659v5.32h-2.659zM679.61 115.08h2.659v5.32h-2.659zM185.03 88.49h2.659v5.32h-2.659zM799.26 48.60h2.659v5.32h-2.659zM488.16 253.34h2.659v5.32h-2.659zM488.16 335.77h2.659v7.98h-2.659zM163.76 83.17h2.659v5.32h-2.659zM193.01 88.49h2.659v7.98h-2.659zM777.99 88.49h2.659v5.32h-2.659zM437.64 258.66h2.659v5.32h-2.659zM437.64 314.50h2.659v5.32h-2.659zM437.64 327.80h2.659v10.64h-2.659zM522.73 245.37h2.659v5.32h-2.659zM440.30 263.98h2.659v7.98h-2.659zM746.08 96.46h2.659v5.32h-2.659zM860.42 43.28h2.659v5.32h-2.659zM695.56 109.76h2.659v5.32h-2.659zM605.15 72.53h2.659v5.32h-2.659zM583.88 168.26h2.659v5.32h-2.659zM921.58 37.97h2.659v5.32h-2.659zM533.36 181.55h2.659v7.98h-2.659zM533.36 226.75h2.659v5.32h-2.659zM759.38 51.26h2.659v5.32h-2.659zM668.97 61.90h2.659v5.32h-2.659zM708.86 56.58h2.659v5.32h-2.659zM839.15 43.28h2.659v5.32h-2.659zM333.94 144.33h2.659v5.32h-2.659zM788.63 85.83h2.659v5.32h-2.659zM618.45 69.87h2.659v5.32h-2.659zM341.91 149.64h2.659v5.32h-2.659zM871.05 40.62h2.659v5.32h-2.659zM203.65 91.15h2.659v5.32h-2.659zM485.50 343.75h2.659v10.64h-2.659zM400.41 200.16h2.659v5.32h-2.659zM629.09 67.21h2.659v5.32h-2.659zM182.37 85.83h2.659v7.98h-2.659zM211.62 88.49h2.659v5.32h-2.659zM687.58 112.42h2.659v5.32h-2.659zM551.97 200.16h2.659v5.32h-2.659zM466.89 338.43h2.659v13.29h-2.659zM929.55 37.97h2.659v5.32h-2.659zM730.13 53.92h2.659v5.32h-2.659zM645.04 64.56h2.659v5.32h-2.659zM389.78 189.53h2.659v5.32h-2.659zM312.66 131.03h2.659v5.32h-2.659zM312.66 144.33h2.659v5.32h-2.659zM150.47 80.51h2.659v5.32h-2.659zM817.87 45.94h2.659v5.32h-2.659zM817.87 80.51h2.659v5.32h-2.659zM232.89 96.46h2.659v5.32h-2.659zM477.52 285.25h2.659v5.32h-2.659zM320.64 136.35h2.659v5.32h-2.659zM299.37 125.71h2.659v5.32h-2.659zM570.59 181.55h2.659v5.32h-2.659zM349.89 154.96h2.659v5.32h-2.659zM623.77 69.87h2.659v5.32h-2.659zM161.10 83.17h2.659v5.32h-2.659zM240.87 99.12h2.659v5.32h-2.659zM387.12 186.87h2.659v5.32h-2.659zM387.12 213.46h2.659v5.32h-2.659zM323.30 136.35h2.659v5.32h-2.659zM190.35 88.49h2.659v5.32h-2.659zM222.26 91.15h2.659v5.32h-2.659zM222.26 99.12h2.659v5.32h-2.659zM302.03 125.71h2.659v5.32h-2.659zM302.03 136.35h2.659v5.32h-2.659zM496.14 306.52h2.659v10.64h-2.659zM169.08 85.83h2.659v5.32h-2.659zM360.53 162.94h2.659v5.32h-2.659zM421.68 229.41h2.659v5.32h-2.659zM421.68 256.00h2.659v5.32h-2.659zM291.39 120.39h2.659v5.32h-2.659zM291.39 128.37h2.659v5.32h-2.659zM272.78 112.42h2.659v5.32h-2.659zM581.22 170.92h2.659v5.32h-2.659zM876.37 40.62h2.659v5.32h-2.659zM833.83 43.28h2.659v5.32h-2.659zM419.02 224.10h2.659v5.32h-2.659zM419.02 274.62h2.659v5.32h-2.659zM948.17 37.97h2.659v5.32h-2.659zM357.87 160.28h2.659v5.32h-2.659zM179.71 85.83h2.659v7.98h-2.659zM408.39 208.14h2.659v5.32h-2.659zM408.39 232.07h2.659v5.32h-2.659zM567.93 184.21h2.659v5.32h-2.659zM706.20 56.58h2.659v5.32h-2.659zM216.94 91.15h2.659v5.32h-2.659zM815.22 45.94h2.659v5.32h-2.659zM177.06 85.83h2.659v5.32h-2.659zM711.51 56.58h2.659v5.32h-2.659zM586.54 165.60h2.659v5.32h-2.659zM315.32 133.69h2.659v5.32h-2.659zM283.42 117.74h2.659v5.32h-2.659zM262.14 107.10h2.659v5.32h-2.659zM961.46 37.97h2.659v5.32h-2.659zM961.46 61.90h2.659v5.32h-2.659zM243.53 99.12h2.659v5.32h-2.659zM573.25 178.89h2.659v5.32h-2.659zM738.10 99.12h2.659v5.32h-2.659zM559.95 192.19h2.659v5.32h-2.659z" fill="#000"/>
<rect x="675.3" y="358.7" width="303.70000000000005" height="220.3" fill="#fff" stroke="#808080" stroke-width="2.4"/>
<path d="M977.6 357.5h4.9v225.3h-4.9zM674.1 578h308.4v4.8h-308.4z" fill="#808080"/>
<path d="M708.6 383.45h18.6v2.7h-18.6zM738 383.45h5.2v2.7h-5.2zM753.8 383.45h18.8v2.7h-18.8zM783 383.45h5.6v2.7h-5.6zM708.6 426.05h5.4v2.7h-5.4zM724.6 426.05h5.4v2.7h-5.4zM740.4 426.05h5.6v2.7h-5.6zM756.4 426.05h5.4v2.7h-5.4zM772.3 426.05h5.5v2.7h-5.5zM788.4 426.05h5.6v2.7h-5.6zM708.8 468.65h18.6v2.7h-18.6zM737.9 468.65h18.6v2.7h-18.6zM767 468.65h18.8v2.7h-18.8zM708.8 508.45h18.6v2.7h-18.6zM737.9 508.45h5.3v2.7h-5.3zM753.9 508.45h5.2v2.7h-5.2zM769.8 508.45h18.8v2.7h-18.8zM708.8 550.95h82.2v2.7h-82.2z" fill="#000"/>
<text transform="translate(818.47 394.73) scale(0.9197 1)" font-family="Liberation Sans, sans-serif" font-size="38.2" fill="#000" stroke="#fff" stroke-width="0.45">-6mm</text>
<text transform="translate(818.48 437.33) scale(0.9126 1)" font-family="Liberation Sans, sans-serif" font-size="38.2" fill="#000" stroke="#fff" stroke-width="0.45">-16.5mm</text>
<text transform="translate(820.38 479.83) scale(0.9389 1)" font-family="Liberation Sans, sans-serif" font-size="38.2" fill="#000" stroke="#fff" stroke-width="0.45">6mm</text>
<text transform="translate(819.75 519.93) scale(0.9070 1)" font-family="Liberation Sans, sans-serif" font-size="38.2" fill="#000" stroke="#fff" stroke-width="0.45">12mm</text>
<text transform="translate(819.73 562.43) scale(0.9153 1)" font-family="Liberation Sans, sans-serif" font-size="38.2" fill="#000" stroke="#fff" stroke-width="0.45">16.5mm</text>
<text transform="translate(90.73 38.33) scale(0.9109 1)" font-family="Liberation Sans, sans-serif" font-size="38.2" fill="#000" stroke="#fff" stroke-width="0.45">0</text>
<text transform="translate(90.35 94.02) scale(0.9299 1)" font-family="Liberation Sans, sans-serif" font-size="38.2" fill="#000" stroke="#fff" stroke-width="0.45">5</text>
<text transform="translate(73.48 149.93) scale(0.8599 1)" font-family="Liberation Sans, sans-serif" font-size="38.2" fill="#000" stroke="#fff" stroke-width="0.45">10</text>
<text transform="translate(73.48 205.72) scale(0.8599 1)" font-family="Liberation Sans, sans-serif" font-size="38.2" fill="#000" stroke="#fff" stroke-width="0.45">15</text>
<text transform="translate(73.12 261.73) scale(0.8686 1)" font-family="Liberation Sans, sans-serif" font-size="38.2" fill="#000" stroke="#fff" stroke-width="0.45">20</text>
<text transform="translate(73.12 317.33) scale(0.8686 1)" font-family="Liberation Sans, sans-serif" font-size="38.2" fill="#000" stroke="#fff" stroke-width="0.45">25</text>
<text transform="translate(73.80 370.73) scale(0.8520 1)" font-family="Liberation Sans, sans-serif" font-size="38.2" fill="#000" stroke="#fff" stroke-width="0.45">30</text>
<text transform="translate(73.80 426.43) scale(0.8520 1)" font-family="Liberation Sans, sans-serif" font-size="38.2" fill="#000" stroke="#fff" stroke-width="0.45">35</text>
<text transform="translate(72.86 482.33) scale(0.8750 1)" font-family="Liberation Sans, sans-serif" font-size="38.2" fill="#000" stroke="#fff" stroke-width="0.45">40</text>
<text transform="translate(72.86 538.12) scale(0.8750 1)" font-family="Liberation Sans, sans-serif" font-size="38.2" fill="#000" stroke="#fff" stroke-width="0.45">45</text>
<text transform="translate(73.46 593.82) scale(0.8603 1)" font-family="Liberation Sans, sans-serif" font-size="38.2" fill="#000" stroke="#fff" stroke-width="0.45">50</text>
<text transform="translate(126.57 644.12) scale(1.0215 1)" font-family="Liberation Sans, sans-serif" font-size="38.2" fill="#000" stroke="#fff" stroke-width="0.45">2</text>
<text transform="translate(196.10 644.12) scale(0.8790 1)" font-family="Liberation Sans, sans-serif" font-size="38.2" fill="#000" stroke="#fff" stroke-width="0.45">2.1</text>
<text transform="translate(281.77 644.12) scale(0.9195 1)" font-family="Liberation Sans, sans-serif" font-size="38.2" fill="#000" stroke="#fff" stroke-width="0.45">2.2</text>
<text transform="translate(362.96 644.12) scale(0.9526 1)" font-family="Liberation Sans, sans-serif" font-size="38.2" fill="#000" stroke="#fff" stroke-width="0.45">2.3</text>
<text transform="translate(449.04 644.12) scale(0.9105 1)" font-family="Liberation Sans, sans-serif" font-size="38.2" fill="#000" stroke="#fff" stroke-width="0.45">2.4</text>
<text transform="translate(532.99 644.12) scale(0.9325 1)" font-family="Liberation Sans, sans-serif" font-size="38.2" fill="#000" stroke="#fff" stroke-width="0.45">2.5</text>
<text transform="translate(619.28 644.12) scale(0.9124 1)" font-family="Liberation Sans, sans-serif" font-size="38.2" fill="#000" stroke="#fff" stroke-width="0.45">2.6</text>
<text transform="translate(701.04 644.12) scale(0.9094 1)" font-family="Liberation Sans, sans-serif" font-size="38.2" fill="#000" stroke="#fff" stroke-width="0.45">2.7</text>
<text transform="translate(782.99 644.12) scale(0.9325 1)" font-family="Liberation Sans, sans-serif" font-size="38.2" fill="#000" stroke="#fff" stroke-width="0.45">2.8</text>
<text transform="translate(867.98 644.12) scale(0.9397 1)" font-family="Liberation Sans, sans-serif" font-size="38.2" fill="#000" stroke="#fff" stroke-width="0.45">2.9</text>
<text transform="translate(969.92 644.12) scale(0.9216 1)" font-family="Liberation Sans, sans-serif" font-size="38.2" fill="#000" stroke="#fff" stroke-width="0.45">3</text>
<text transform="translate(437.46 692.02) scale(0.8874 1)" font-family="Liberation Sans, sans-serif" font-size="38.2" fill="#000" stroke="#fff" stroke-width="0.45">Frequency (GHz)</text>
<text transform="translate(39.52 428.40) rotate(-90) translate(-2.95 0) scale(0.8914 1)" font-family="Liberation Sans, sans-serif" font-size="38.2" fill="#000" stroke="#fff" stroke-width="0.45">Return Loss (dB)</text>
</svg>
</body></html>
